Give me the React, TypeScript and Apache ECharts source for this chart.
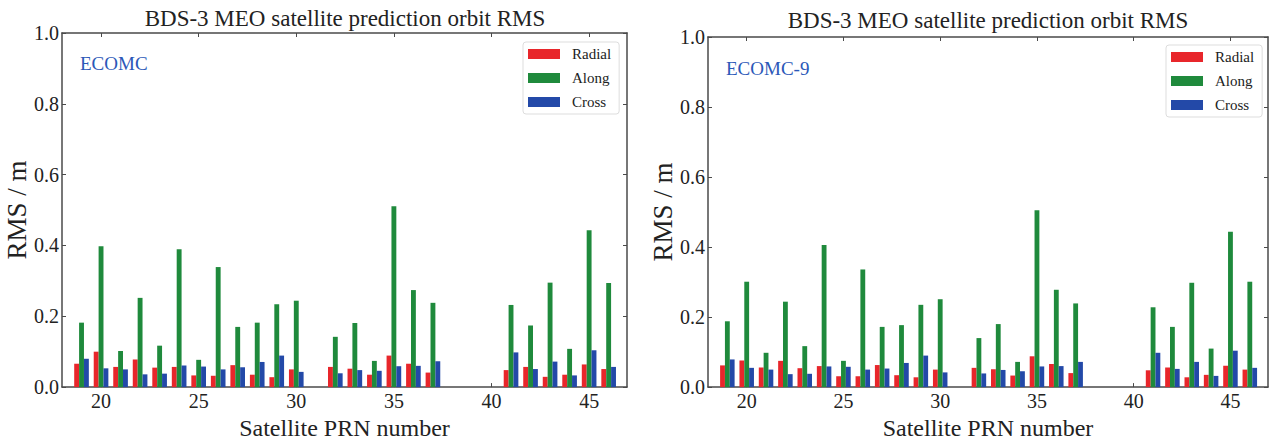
import React, { useEffect, useRef } from "react";
import * as echarts from "echarts";

const prn = [19, 20, 21, 22, 23, 24, 25, 26, 27, 28, 29, 30, 32, 33, 34, 35, 36, 37, 41, 42, 43, 44, 45, 46];
const xTicks = [20, 25, 30, 35, 40, 45];
const seriesNames = ["Radial", "Along", "Cross"];
const chartTitle = "BDS-3 MEO satellite prediction orbit RMS";
const panelLabels = ["ECOMC", "ECOMC-9"];

const radialL = [0.066, 0.1, 0.057, 0.078, 0.055, 0.057, 0.033, 0.032, 0.062, 0.035, 0.028, 0.05, 0.057, 0.052, 0.035, 0.089, 0.066, 0.041, 0.048, 0.057, 0.029, 0.035, 0.064, 0.051];
const alongL = [0.182, 0.398, 0.102, 0.252, 0.117, 0.389, 0.077, 0.339, 0.17, 0.182, 0.234, 0.244, 0.142, 0.181, 0.074, 0.511, 0.274, 0.238, 0.232, 0.174, 0.295, 0.108, 0.443, 0.294];
const crossL = [0.08, 0.053, 0.05, 0.036, 0.038, 0.061, 0.058, 0.05, 0.056, 0.071, 0.089, 0.043, 0.039, 0.048, 0.046, 0.059, 0.06, 0.073, 0.098, 0.051, 0.072, 0.033, 0.104, 0.057];

const radialR = [0.062, 0.076, 0.056, 0.075, 0.054, 0.06, 0.031, 0.031, 0.063, 0.034, 0.028, 0.05, 0.055, 0.051, 0.033, 0.088, 0.066, 0.04, 0.048, 0.056, 0.028, 0.035, 0.061, 0.05];
const alongR = [0.188, 0.301, 0.098, 0.244, 0.117, 0.406, 0.075, 0.336, 0.172, 0.177, 0.235, 0.251, 0.14, 0.18, 0.072, 0.505, 0.278, 0.239, 0.228, 0.172, 0.298, 0.11, 0.444, 0.301];
const crossR = [0.079, 0.055, 0.05, 0.037, 0.038, 0.059, 0.058, 0.05, 0.053, 0.069, 0.09, 0.042, 0.039, 0.049, 0.045, 0.059, 0.06, 0.072, 0.098, 0.052, 0.072, 0.032, 0.104, 0.055];

const COLORS = ["#e8262b", "#1f8a3c", "#2349a8"];
const FONT = "Liberation Serif";
const AXIS_COLOR = "#4a4a4a";
const TEXT_COLOR = "#222";

export default function App() {
  const ref = useRef<HTMLDivElement>(null);

  useEffect(() => {
    document.body.style.margin = "0";
    const chart = echarts.init(ref.current!, null, { renderer: "svg" });

    const grids = [
      { left: 62, top: 33, width: 565, height: 365.5 },
      { left: 708, top: 37, width: 560, height: 362 },
    ];

    const labelStyle = { fontFamily: FONT, fontSize: 20, color: TEXT_COLOR };

    const xAxes: any[] = [];
    const yAxes: any[] = [];
    grids.forEach((_, gi) => {
      const base = {
        gridIndex: gi,
        type: "value",
        min: 18,
        max: 46.94,
        splitLine: { show: false },
        axisLine: { show: true, onZero: false, lineStyle: { color: AXIS_COLOR, width: 1.5 } },
      };
      xAxes.push({
        ...base,
        position: "bottom",
        name: "Satellite PRN number",
        nameLocation: "middle",
        nameGap: 23,
        nameTextStyle: { fontFamily: FONT, fontSize: 24, color: TEXT_COLOR },
        axisTick: { show: true, inside: true, length: 4, customValues: xTicks, lineStyle: { color: AXIS_COLOR } },
        axisLabel: { show: true, customValues: xTicks, margin: 4, ...labelStyle },
      });
      xAxes.push({
        ...base,
        position: "top",
        axisTick: { show: true, inside: true, length: 4, customValues: xTicks, lineStyle: { color: AXIS_COLOR } },
        axisLabel: { show: false, customValues: xTicks },
      });
      const ybase = {
        gridIndex: gi,
        type: "value",
        min: 0,
        max: 1,
        interval: 0.2,
        splitLine: { show: false },
        axisLine: { show: true, onZero: false, lineStyle: { color: AXIS_COLOR, width: 1.5 } },
        axisTick: { show: true, inside: true, length: 4, lineStyle: { color: AXIS_COLOR } },
      };
      yAxes.push({
        ...ybase,
        position: "left",
        name: "RMS / m",
        nameLocation: "middle",
        nameGap: 27,
        nameTextStyle: { fontFamily: FONT, fontSize: 27, color: TEXT_COLOR },
        axisLabel: {
          ...labelStyle,
          margin: 3,
          formatter: (v: number) => v.toFixed(1),
        },
      });
      yAxes.push({ ...ybase, position: "right", axisLabel: { show: false } });
    });

    const panels = [
      [radialL, alongL, crossL],
      [radialR, alongR, crossR],
    ];
    const series: any[] = [];
    panels.forEach((vals, gi) => {
      vals.forEach((arr, si) => {
        series.push({
          type: "bar",
          name: seriesNames[si],
          xAxisIndex: gi * 2,
          yAxisIndex: gi * 2,
          barWidth: "25%",
          barGap: "0%",
          itemStyle: { color: COLORS[si] },
          data: prn.map((p, i) => [p, arr[i]]),
        });
      });
    });

    const legendBase = {
      orient: "vertical",
      itemWidth: 32,
      itemHeight: 10,
      itemGap: 8,
      padding: [4, 8, 4, 5],
      backgroundColor: "#fff",
      borderColor: "#ddd",
      borderWidth: 1,
      borderRadius: 3,
      icon: "rect",
      data: seriesNames,
      textStyle: { fontFamily: FONT, fontSize: 15, color: TEXT_COLOR, lineHeight: 16, padding: [0, 0, 0, 7] },
    };

    const textEl = (x: number, y: number, text: string, size: number, color: string, align: string) => ({
      type: "text",
      x,
      y,
      style: {
        text,
        fontFamily: FONT,
        fontSize: size,
        fill: color,
        align,
        textAlign: align,
        verticalAlign: "top",
        textVerticalAlign: "top",
      },
    });

    chart.setOption({
      animation: false,
      textStyle: { fontFamily: FONT },
      grid: grids,
      xAxis: xAxes,
      yAxis: yAxes,
      legend: [
        { ...legendBase, left: 523, top: 42 },
        { ...legendBase, left: 1166, top: 45 },
      ],
      graphic: [
        textEl(345, 7, chartTitle, 23, TEXT_COLOR, "center"),
        textEl(988, 9, chartTitle, 23, TEXT_COLOR, "center"),
        textEl(80, 54, panelLabels[0], 19, "#2b58b8", "left"),
        textEl(726, 59, panelLabels[1], 19, "#2b58b8", "left"),
      ],
      series,
    });

    return () => chart.dispose();
  }, []);

  return <div ref={ref} style={{ width: 1272, height: 445 }} />;
}
